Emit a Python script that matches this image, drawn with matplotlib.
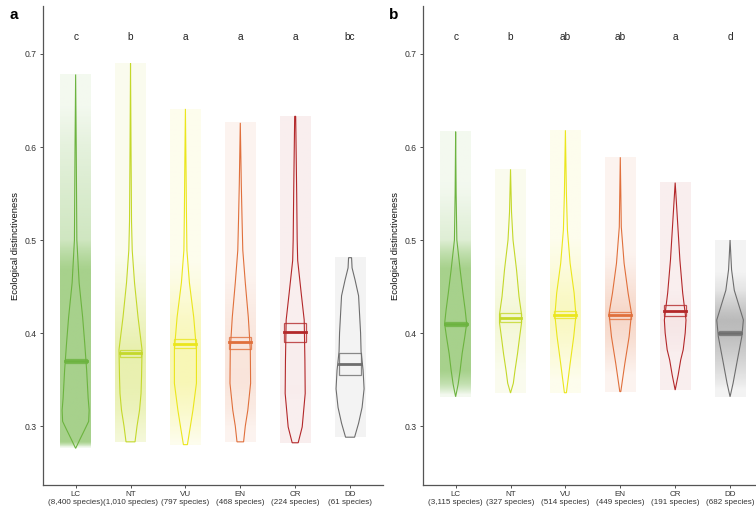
import numpy as np
import matplotlib
matplotlib.use("Agg")
import matplotlib.pyplot as plt
from matplotlib.colors import to_rgb

plt.rcParams["font.family"] = ["Liberation Sans", "DejaVu Sans"]

# categories and colours
cats = ["LC", "NT", "VU", "EN", "CR", "DD"]
cat_colors = ["#6cb33f", "#c4d82b", "#ebe61c", "#e0703c", "#b3282a", "#6e6e6e"]

counts_a = [8400, 1010, 797, 468, 224, 61]
counts_b = [3115, 327, 514, 449, 191, 682]
letters_a = ["c", "b", "a", "a", "a", "bc"]
letters_b = ["c", "b", "ab", "ab", "a", "d"]

# mean line and confidence box (value units)
mean_a = [0.370, 0.378, 0.388, 0.390, 0.401, 0.367]
lo_a = [0.368, 0.3745, 0.3835, 0.3828, 0.390, 0.355]
hi_a = [0.372, 0.3817, 0.3932, 0.3954, 0.411, 0.378]
mean_b = [0.410, 0.4165, 0.4197, 0.419, 0.424, 0.400]
lo_b = [0.408, 0.4115, 0.4158, 0.415, 0.418, 0.398]
hi_b = [0.412, 0.421, 0.424, 0.4229, 0.430, 0.402]

# violin outlines: value levels (top -> bottom) and half widths (px-ish density)
vy_a = [
  [0.678, 0.60, 0.50, 0.454, 0.417, 0.39, 0.36, 0.33, 0.317, 0.305, 0.296, 0.285, 0.276],
  [0.690, 0.60, 0.52, 0.489, 0.454, 0.417, 0.382, 0.353, 0.335, 0.317, 0.300, 0.283],
  [0.641, 0.58, 0.532, 0.489, 0.454, 0.417, 0.382, 0.346, 0.317, 0.300, 0.280],
  [0.626, 0.56, 0.52, 0.489, 0.454, 0.417, 0.382, 0.346, 0.317, 0.300, 0.283],
  [0.633, 0.55, 0.50, 0.478, 0.443, 0.414, 0.371, 0.335, 0.299, 0.282],
  [0.481, 0.47, 0.457, 0.44, 0.42, 0.40, 0.38, 0.36, 0.34, 0.32, 0.303, 0.288],
]
vw_a = [
  [0, 0.6, 1.2, 3.5, 7, 9, 11, 12.5, 13.5, 13, 9, 4, 0],
  [0, 0.5, 1, 1.7, 4, 7.5, 11.5, 11, 10.5, 9, 6.5, 4.5],
  [0, 0.6, 1, 1.5, 4, 8.3, 11, 11, 7.5, 5, 2],
  [0, 1, 1.8, 2.5, 5, 8, 10, 10.3, 7.5, 5, 3.3],
  [0.5, 1.5, 2, 2.5, 6, 9, 9.7, 10, 7, 3],
  [1.5, 2, 5, 8.5, 9.5, 10.5, 11, 13, 14, 12, 8.5, 4.5],
]
vy_b = [
  [0.6165, 0.55, 0.50, 0.468, 0.443, 0.425, 0.41, 0.395, 0.378, 0.36, 0.345, 0.3315],
  [0.576, 0.53, 0.50, 0.468, 0.439, 0.42, 0.411, 0.395, 0.378, 0.36, 0.346, 0.3355],
  [0.618, 0.55, 0.511, 0.475, 0.443, 0.419, 0.396, 0.367, 0.3358],
  [0.589, 0.514, 0.475, 0.443, 0.421, 0.396, 0.367, 0.337],
  [0.5617, 0.514, 0.4785, 0.443, 0.414, 0.40, 0.382, 0.371, 0.355, 0.3387],
  [0.500, 0.468, 0.446, 0.428, 0.414, 0.396, 0.371, 0.346, 0.3315],
]
vw_b = [
  [0, 0.5, 1.2, 4.5, 7.3, 9.5, 11, 9, 6.5, 4.5, 2.5, 0],
  [0, 1, 2.5, 6, 8.5, 11, 11, 9, 7, 4.5, 2.8, 0],
  [0, 1, 2, 4.7, 8.7, 10.5, 8.3, 4.7, 1],
  [0, 1, 3.8, 7.8, 11.2, 8.8, 4.5, 0.5],
  [0, 2.7, 4.7, 7.5, 10.8, 10, 8, 5.5, 3, 0],
  [0, 1.5, 4.2, 9.3, 13.3, 11.7, 7.3, 3, 0],
]

W_SCALE = 1 / 54.8   # px -> category units
JIT = 0.28


def cloud(ax, x, ys, ws, n, color):
  # jittered points shown as a translucent column shaded by density
  ys = np.asarray(ys)[::-1]
  ws = np.asarray(ws, dtype=float)[::-1]
  grid = np.linspace(ys[0], ys[-1], 400)
  dens = np.interp(grid, ys, ws)
  pdf = dens / np.trapezoid(dens, grid)
  per_px2 = n * pdf / 930.0 / (2 * JIT * 54.8)
  alpha = 1 - (1 - 0.2) ** (per_px2 * 9)
  alpha = np.clip(alpha, 0.08, 0.6)
  img = np.zeros((len(grid), 1, 4))
  img[..., :3] = to_rgb(color)
  img[:, 0, 3] = alpha
  ax.imshow(img, extent=[x - JIT, x + JIT, ys[0], ys[-1]], origin="lower",
            aspect="auto", interpolation="bilinear", zorder=1)


def panel(ax, counts, letters, mean, lo, hi, vys, vws, tag):
  for i in range(len(cats)):
    x = i + 1
    c = cat_colors[i]
    cloud(ax, x, vys[i], vws[i], counts[i], c)
    ys = np.asarray(vys[i])
    ws = np.asarray(vws[i]) * W_SCALE
    px = np.concatenate([x + ws, (x - ws)[::-1]])
    py = np.concatenate([ys, ys[::-1]])
    ax.fill(px, py, facecolor="none", edgecolor=c, lw=0.8, zorder=2)
    ax.add_patch(plt.Rectangle((x - 0.2, lo[i]), 0.4, hi[i] - lo[i],
                               facecolor="none", edgecolor=c, lw=0.9, alpha=0.8, zorder=3))
    ax.plot([x - 0.2, x + 0.2], [mean[i], mean[i]], color=c, lw=2, zorder=4)
    ax.text(x, 0.718, letters[i], ha="center", va="center", fontsize=7.3, color="#222222")

  ax.set_xlim(0.4, 6.6)
  ax.set_ylim(0.2366, 0.7516)
  ax.set_yticks([0.3, 0.4, 0.5, 0.6, 0.7])
  ax.set_yticklabels(["0.3", "0.4", "0.5", "0.6", "0.7"])
  ax.set_xticks(range(1, 7))
  ax.set_xticklabels([f"{c}\n({n:,} species)" for c, n in zip(cats, counts)], linespacing=1.05)
  ax.tick_params(labelsize=5.8, length=2.5, width=0.6, colors="#333333", pad=2)
  ax.tick_params(axis="y", labelsize=6.2)
  for s in ["top", "right"]:
    ax.spines[s].set_visible(False)
  for s in ["left", "bottom"]:
    ax.spines[s].set_color("#555555")
    ax.spines[s].set_linewidth(0.9)
  ax.set_ylabel("Ecological distinctiveness", fontsize=6.8, color="#111111")
  ax.yaxis.set_label_coords(-0.066, 0.5)
  ax.text(-0.084, 0.981, tag, transform=ax.transAxes, fontsize=11, fontweight="bold",
          ha="center", va="center")


fig = plt.figure(figsize=(7.56, 5.11), dpi=100)
ax_a = fig.add_axes([42.7 / 756, 26 / 511, 340.3 / 756, 479 / 511])
ax_b = fig.add_axes([422.7 / 756, 26 / 511, 340.3 / 756, 479 / 511])

panel(ax_a, counts_a, letters_a, mean_a, lo_a, hi_a, vy_a, vw_a, "a")
panel(ax_b, counts_b, letters_b, mean_b, lo_b, hi_b, vy_b, vw_b, "b")

fig.savefig("out.png", dpi=100)
